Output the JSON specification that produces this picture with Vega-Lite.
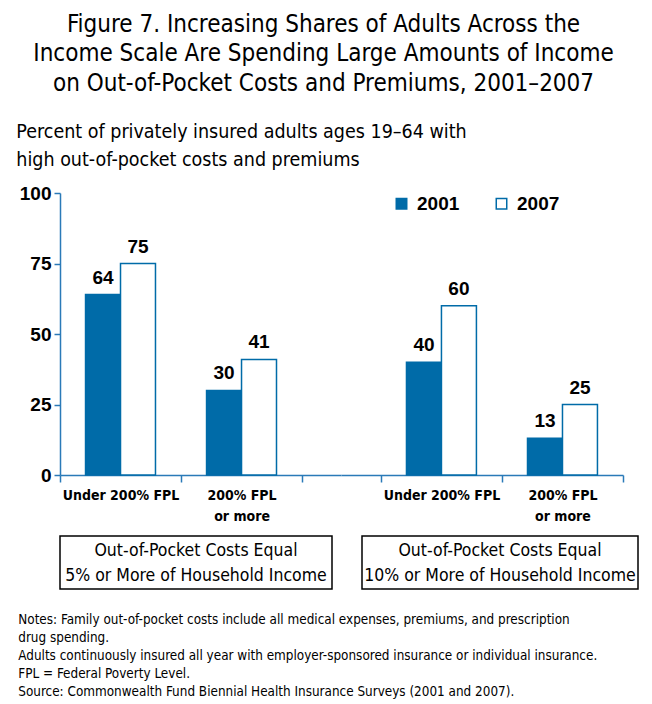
{
  "$schema": "https://vega.github.io/schema/vega-lite/v6.json",
  "padding": {"left": 16, "top": 12, "right": 5, "bottom": 5},
  "background": "white",
  "datasets": {
    "bars": [
      {"measure": "5%", "income": "Under 200% FPL", "year": "2001", "value": 64},
      {"measure": "5%", "income": "Under 200% FPL", "year": "2007", "value": 75},
      {"measure": "5%", "income": "200% FPL or more", "year": "2001", "value": 30},
      {"measure": "5%", "income": "200% FPL or more", "year": "2007", "value": 41},
      {"measure": "10%", "income": "Under 200% FPL", "year": "2001", "value": 40},
      {"measure": "10%", "income": "Under 200% FPL", "year": "2007", "value": 60},
      {"measure": "10%", "income": "200% FPL or more", "year": "2001", "value": 13},
      {"measure": "10%", "income": "200% FPL or more", "year": "2007", "value": 25}
    ],
    "boxes": [
      {"measure": "5%", "lines": ["Out-of-Pocket Costs Equal", "5% or More of Household Income"]},
      {"measure": "10%", "lines": ["Out-of-Pocket Costs Equal", "10% or More of Household Income"]}
    ]
  },
  "title": {
    "text": ["Figure 7. Increasing Shares of Adults Across the", "Income Scale Are Spending Large Amounts of Income", "on Out-of-Pocket Costs and Premiums, 2001–2007"],
    "anchor": "middle",
    "font": "DejaVu Sans Condensed, sans-serif",
    "fontSize": 24,
    "fontWeight": "normal",
    "lineHeight": 29.5,
    "color": "#000000",
    "dx": -4,
    "offset": 26
  },
  "config": {
    "view": {"stroke": null},
    "group": {"stroke": "#444444", "strokeWidth": 1.5},
    "axis": {"domainColor": "#2a7ab8", "tickColor": "#2a7ab8", "domainWidth": 1.5, "tickWidth": 1.5, "labelColor": "#000000"}
  },
  "spacing": 12,
  "vconcat": [
    {
      "title": {
        "text": ["Percent of privately insured adults ages 19–64 with", "high out-of-pocket costs and premiums"],
        "anchor": "start",
        "font": "DejaVu Sans Condensed, sans-serif",
        "fontSize": 19.5,
        "fontWeight": "normal",
        "lineHeight": 28,
        "color": "#000000",
        "dx": -3,
        "offset": 14
      },
      "spacing": 0,
      "resolve": {"scale": {"fill": "independent"}},
      "hconcat": [
        {
          "width": 281,
          "height": 282,
          "data": {"name": "bars"},
          "transform": [{"filter": "datum.measure == '5%'"}],
          "encoding": {
            "x": {
              "field": "income", "type": "nominal",
              "sort": ["Under 200% FPL", "200% FPL or more"],
              "scale": {"paddingInner": 0, "paddingOuter": 0.161, "align": 0},
              "axis": {
                "title": null, "labelAngle": 0, "tickBand": "extent", "tickSize": 7,
                "labelFont": "DejaVu Sans Condensed, sans-serif",
                "labelFontSize": 14, "labelFontWeight": "bold", "labelPadding": 6, "labelLineHeight": 21,
                "labelExpr": "datum.value == '200% FPL or more' ? ['200% FPL', 'or more'] : datum.label"
              }
            },
            "y": {
              "field": "value", "type": "quantitative",
              "scale": {"domain": [0, 100]},
              "axis": {
                "title": null, "grid": false, "values": [0, 25, 50, 75, 100], "tickSize": 6,
                "labelFont": "Liberation Sans, Arial, sans-serif", "labelFontSize": 19, "labelFontWeight": "bold", "labelPadding": 3
              }
            },
            "xOffset": {"field": "year", "type": "nominal", "scale": {"paddingOuter": 0.73, "paddingInner": 0}}
          },
          "layer": [
            {
              "mark": {"type": "bar", "stroke": "#006BA8", "strokeWidth": 1.5},
              "encoding": {
                "fill": {"field": "year", "type": "nominal", "scale": {"domain": ["2001", "2007"], "range": ["#006BA8", "#ffffff"]}, "legend": null}
              }
            },
            {
              "mark": {"type": "text", "dy": -11, "baseline": "alphabetic", "font": "Liberation Sans, Arial, sans-serif", "fontSize": 19, "fontWeight": "bold", "color": "#000000"},
              "encoding": {"text": {"field": "value", "type": "quantitative"}}
            }
          ]
        },
        {
          "width": 282,
          "height": 282,
          "data": {"name": "bars"},
          "transform": [{"filter": "datum.measure == '10%'"}],
          "encoding": {
            "x": {
              "field": "income", "type": "nominal",
              "sort": ["Under 200% FPL", "200% FPL or more"],
              "scale": {"paddingInner": 0, "paddingOuter": 0.165, "align": 1},
              "axis": {
                "title": null, "labelAngle": 0, "tickBand": "extent", "tickSize": 7,
                "labelFont": "DejaVu Sans Condensed, sans-serif",
                "labelFontSize": 14, "labelFontWeight": "bold", "labelPadding": 6, "labelLineHeight": 21,
                "labelExpr": "datum.value == '200% FPL or more' ? ['200% FPL', 'or more'] : datum.label"
              }
            },
            "y": {
              "field": "value", "type": "quantitative",
              "scale": {"domain": [0, 100]},
              "axis": null
            },
            "xOffset": {"field": "year", "type": "nominal", "scale": {"paddingOuter": 0.73, "paddingInner": 0}}
          },
          "layer": [
            {
              "mark": {"type": "bar", "stroke": "#006BA8", "strokeWidth": 1.5},
              "encoding": {
                "fill": {
                  "field": "year", "type": "nominal",
                  "scale": {"domain": ["2001", "2007"], "range": ["#006BA8", "#ffffff"]},
                  "legend": {
                    "title": null, "orient": "none", "legendX": 51, "legendY": 1, "direction": "horizontal",
                    "symbolType": "square", "symbolSize": 110, "symbolStrokeColor": "#006BA8", "symbolStrokeWidth": 1.5,
                    "labelFont": "Liberation Sans, Arial, sans-serif", "labelFontSize": 19, "labelFontWeight": "bold", "labelColor": "#000000",
                    "columnPadding": 32, "labelOffset": 6
                  }
                }
              }
            },
            {
              "mark": {"type": "text", "dy": -11, "baseline": "alphabetic", "font": "Liberation Sans, Arial, sans-serif", "fontSize": 19, "fontWeight": "bold", "color": "#000000"},
              "encoding": {"text": {"field": "value", "type": "quantitative"}}
            }
          ]
        }
      ]
    },
    {
      "spacing": 28,
      "title": {
        "text": [
          "Notes: Family out-of-pocket costs include all medical expenses, premiums, and prescription",
          "drug spending.",
          "Adults continuously insured all year with employer-sponsored insurance or individual insurance.",
          "FPL = Federal Poverty Level.",
          "Source: Commonwealth Fund Biennial Health Insurance Surveys (2001 and 2007)."
        ],
        "orient": "bottom",
        "anchor": "start",
        "font": "DejaVu Sans Condensed, sans-serif",
        "fontSize": 13.4,
        "fontWeight": "normal",
        "lineHeight": 18,
        "color": "#000000",
        "dx": -41,
        "offset": 23
      },
      "hconcat": [
        {
          "width": 272,
          "height": 53,
          "view": {"stroke": "#000000", "strokeWidth": 1.5},
          "data": {"name": "boxes"},
          "transform": [{"filter": "datum.measure == '5%'"}],
          "mark": {"type": "text", "baseline": "middle", "align": "center", "dy": -11.5, "font": "DejaVu Sans Condensed, sans-serif", "fontSize": 17.5, "lineHeight": 25, "color": "#000000"},
          "encoding": {"text": {"field": "lines", "type": "nominal"}}
        },
        {
          "width": 276,
          "height": 53,
          "view": {"stroke": "#000000", "strokeWidth": 1.5},
          "data": {"name": "boxes"},
          "transform": [{"filter": "datum.measure == '10%'"}],
          "mark": {"type": "text", "baseline": "middle", "align": "center", "dy": -11.5, "font": "DejaVu Sans Condensed, sans-serif", "fontSize": 17.5, "lineHeight": 25, "color": "#000000"},
          "encoding": {"text": {"field": "lines", "type": "nominal"}}
        }
      ]
    }
  ]
}
